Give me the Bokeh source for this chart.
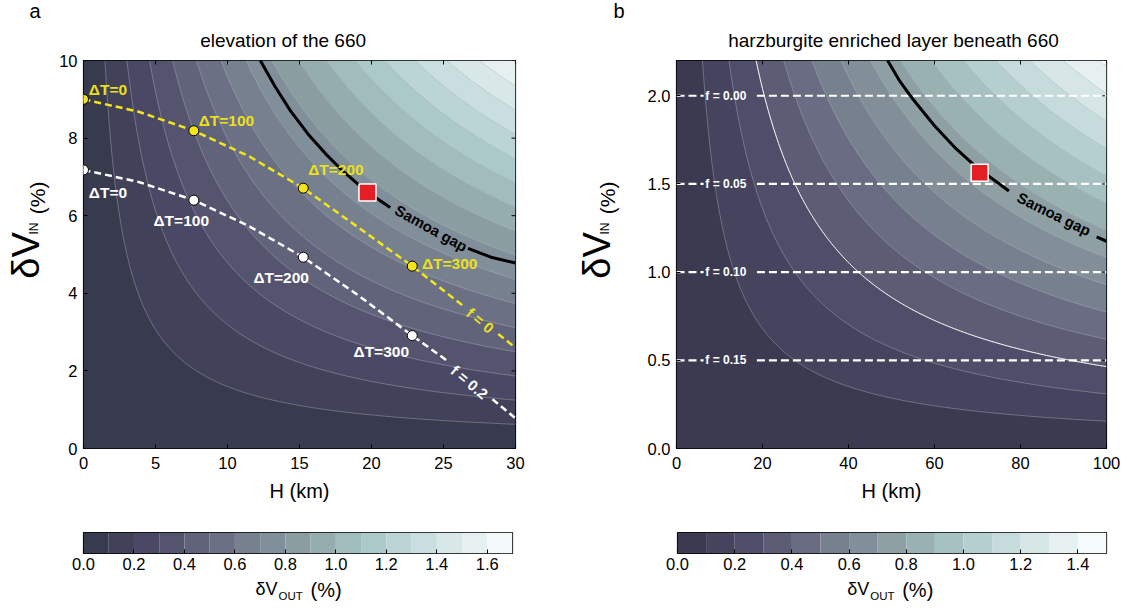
import numpy as np
from bokeh.plotting import figure
from bokeh.models import Label, FixedTicker, Range1d
from bokeh.layouts import column, row
from bokeh.embed import file_html
from bokeh.resources import INLINE

FONT = "Liberation Sans"

# ---------------- data: panel a (elevation of the 660) ----------------
a_title = "elevation of the 660"
a_x_ticks = [0, 5, 10, 15, 20, 25, 30]
a_y_ticks = [0, 2, 4, 6, 8, 10]
a_levels = [0.0, 0.1, 0.2, 0.3, 0.4, 0.5, 0.6, 0.7, 0.8, 0.9, 1.0, 1.1, 1.2, 1.3, 1.4, 1.5, 1.6, 1.7]
a_cbar_ticks = [0.0, 0.2, 0.4, 0.6, 0.8, 1.0, 1.2, 1.4, 1.6]
a_palette = ["#383a4e", "#41415a", "#4a4965", "#55546f", "#61637b", "#6b7085",
             "#76808f", "#808f99", "#8a9ea2", "#96adad", "#a0bcbc", "#abc9c9",
             "#bbd5d5", "#c9dfdf", "#d8e8e8", "#e7f0f0", "#f4f9fa"]
# dV_OUT = dV_IN * gain * (1 - exp(-H / length)) 
a_gain = 0.408
a_length_km = 60.0

# f = 0 (yellow) and f = 0.2 (white) paths, with a gap for their labels
a_f0_H = [0.0, 3.83, 7.66, 11.5, 15.26, 19.0, 22.83, 26.35]
a_f0_V = [9.0, 8.68, 8.19, 7.53, 6.71, 5.72, 4.70, 3.68]
a_f0_tail_H = [28.8, 30.0]
a_f0_tail_V = [2.95, 2.6]
a_f2_H = [0.0, 3.83, 7.66, 11.5, 15.26, 19.0, 22.83, 25.3]
a_f2_V = [7.18, 6.87, 6.40, 5.73, 4.93, 3.97, 2.91, 2.25]
a_f2_tail_H = [28.4, 30.0]
a_f2_tail_V = [1.27, 0.78]
# dT markers
a_dT_text = ["ΔT=0", "ΔT=100", "ΔT=200", "ΔT=300"]
a_dT_H = [0.0, 7.66, 15.26, 22.83]
a_f0_mark_V = [9.0, 8.19, 6.71, 4.70]
a_f2_mark_V = [7.18, 6.40, 4.93, 2.91]
a_f0_lab_H = [0.37, 8.0, 15.6, 23.5]
a_f0_lab_V = [9.26, 8.45, 7.18, 4.78]
a_f2_lab_H = [0.37, 4.86, 11.8, 18.75]
a_f2_lab_V = [6.6, 5.88, 4.42, 2.51]
# Samoa gap curve, observation
a_samoa_H = [12.28, 13.3, 14.4, 15.6, 16.8, 17.9, 19.0, 20.2, 21.3]
a_samoa_V = [10.0, 9.33, 8.69, 8.10, 7.60, 7.19, 6.83, 6.49, 6.21]
a_samoa_tail_H = [26.7, 28.3, 30.0]
a_samoa_tail_V = [5.16, 4.93, 4.78]
a_obs_H = [19.72]
a_obs_V = [6.60]

# ---------------- data: panel b (harzburgite enriched layer) ----------------
b_title = "harzburgite enriched layer beneath 660"
b_x_ticks = [0, 20, 40, 60, 80, 100]
b_y_ticks = [0.0, 0.5, 1.0, 1.5, 2.0]
b_levels = [0.0, 0.1, 0.2, 0.3, 0.4, 0.5, 0.6, 0.7, 0.8, 0.9, 1.0, 1.1, 1.2, 1.3, 1.4, 1.5]
b_cbar_ticks = [0.0, 0.2, 0.4, 0.6, 0.8, 1.0, 1.2, 1.4]
b_palette = ["#3b3a51", "#45435d", "#4f4e6a", "#5c5c74", "#696c82", "#77808f",
             "#828f99", "#8ea0a4", "#9ab1b1", "#a6c1c1", "#b5cfcf", "#c6dbdb",
             "#d6e6e6", "#e6f0f0", "#f5fafa"]
b_gain = 2.28
b_length_km = 300.0
b_f_V = [2.0, 1.5, 1.0, 0.5]
b_f_text = ["f = 0.00", "f = 0.05", "f = 0.10", "f = 0.15"]
b_f_left_H = [0.0, 6.3]
b_f_right_H = [18.7, 100.0]
b_f_lab_H = 6.7
b_samoa_H = [49.1, 52.0, 55.0, 60.0, 65.0, 70.0, 74.0, 77.3]
b_samoa_V = [2.2, 2.08, 1.98, 1.83, 1.70, 1.59, 1.52, 1.46]
b_samoa_tail_H = [97.7, 100.0]
b_samoa_tail_V = [1.20, 1.175]
b_obs_H = [70.5]
b_obs_V = [1.563]

YELLOW = "#f3e51a"
YELLOW_TXT = "#ece01c"
RED = "#e31e24"

TOP_H = 53          # height of the title strip
ROW_H = 510 - TOP_H  # height of the plot row
FRAME_TOP = 60


def strip(x0, y0, w, h):
    """Blank canvas region whose data coordinates are page pixels (y downwards)."""
    s = figure(width=w, height=h, x_range=Range1d(x0, x0 + w), y_range=Range1d(y0 + h, y0),
               output_backend="svg", toolbar_location=None, x_axis_location=None,
               y_axis_location=None, min_border=0, outline_line_color=None)
    s.grid.visible = False
    return s


def txt(fig, x, y, text, size, **kw):
    kw.setdefault("text_baseline", "middle")
    fig.add_layout(Label(x=x, y=y, text=text, text_font=FONT, text_font_size=size,
                         text_color=kw.pop("color", "black"), **kw))


def style_axes(p, xt, yt, xlabels, ylabels):
    bottom, left = p.below[0], p.left[0]
    bottom.ticker = FixedTicker(ticks=xt)
    left.ticker = FixedTicker(ticks=yt)
    bottom.major_label_overrides = xlabels
    left.major_label_overrides = ylabels
    for ax in p.axis:
        ax.axis_line_color = None
        ax.major_tick_in = 4
        ax.major_tick_out = 0
        ax.major_tick_line_color = "black"
        ax.minor_tick_line_color = None
        ax.major_label_text_font = FONT
        ax.major_label_text_font_size = "16.5px"
        ax.major_label_text_color = "black"
    bottom.major_label_standoff = 8
    left.major_label_standoff = 6
    bottom.axis_label = "H (km)"
    bottom.axis_label_text_font = FONT
    bottom.axis_label_text_font_style = "normal"
    bottom.axis_label_text_font_size = "20px"
    bottom.axis_label_text_color = "black"
    bottom.axis_label_standoff = 8
    p.grid.visible = False
    p.outline_line_color = "black"
    p.outline_line_width = 1.2


def mirror_ticks(p, xt, yt, xmax, ymax):
    # inward ticks on the top and right edges (half of each dash is clipped by the frame)
    p.scatter(xt, [ymax] * len(xt), marker="dash", angle=np.pi / 2, size=8,
              line_color="black", line_width=1)
    p.scatter([xmax] * len(yt), yt, marker="dash", size=8, line_color="black", line_width=1)


def field(Hmax, Vmax, gain, length):
    H = np.linspace(0, Hmax, 301)
    V = np.linspace(0, Vmax, 221)
    Z = V[:, None] * (gain * (1.0 - np.exp(-H / length)))[None, :]
    return H, V, Z


def ylabel(s, x_dv, x_in, x_pc):
    txt(s, x_dv, 310, "δV", "38px", angle=np.pi / 2)
    txt(s, x_in, 258, "IN", "12px", angle=np.pi / 2)
    txt(s, x_pc, 234, "(%)", "21px", angle=np.pi / 2)


# ---------------- panel a ----------------
pa = figure(width=519, height=ROW_H, x_range=Range1d(0, 30), y_range=Range1d(0, 10),
            output_backend="svg", toolbar_location=None,
            min_border_left=27, min_border_right=60, min_border_top=FRAME_TOP - TOP_H,
            min_border_bottom=62)
style_axes(pa, a_x_ticks, a_y_ticks, {t: str(t) for t in a_x_ticks}, {t: str(t) for t in a_y_ticks})
pa.background_fill_color = a_palette[0]
H, V, Z = field(30, 10, a_gain, a_length_km)
pa.contour(H, V, Z, levels=[a_levels[0] - 0.01] + a_levels[1:], fill_color=a_palette, line_color=None)
pa.contour(H, V, Z, levels=a_levels[1:-1], fill_color=None, line_color="white",
           line_alpha=0.45, line_width=0.6)
mirror_ticks(pa, a_x_ticks, a_y_ticks, 30, 10)

pa.line(a_samoa_H, a_samoa_V, line_color="black", line_width=3)
pa.line(a_samoa_tail_H, a_samoa_tail_V, line_color="black", line_width=3)
pa.line(a_f2_H, a_f2_V, line_color="white", line_width=2.5, line_dash="7 4")
pa.line(a_f2_tail_H, a_f2_tail_V, line_color="white", line_width=2.5, line_dash="7 4")
pa.line(a_f0_H, a_f0_V, line_color=YELLOW, line_width=2.5, line_dash="7 4")
pa.line(a_f0_tail_H, a_f0_tail_V, line_color=YELLOW, line_width=2.5, line_dash="7 4")
pa.scatter(a_dT_H, a_f2_mark_V, size=10, fill_color="white", line_color="black", line_width=1)
pa.scatter(a_dT_H, a_f0_mark_V, size=10, fill_color=YELLOW, line_color="black", line_width=1)
pa.scatter(a_obs_H, a_obs_V, marker="square", size=17, fill_color=RED, line_color="white", line_width=1.5)

for t, x, y in zip(a_dT_text, a_f0_lab_H, a_f0_lab_V):
    txt(pa, x, y, t, "15.5px", color=YELLOW_TXT, text_font_style="bold")
for t, x, y in zip(a_dT_text, a_f2_lab_H, a_f2_lab_V):
    txt(pa, x, y, t, "15.5px", color="white", text_font_style="bold")
txt(pa, 27.55, 3.3, "f = 0", "15px", color=YELLOW_TXT, angle=-40 * np.pi / 180,
    text_font_style="bold", text_align="center")
txt(pa, 26.8, 1.71, "f = 0.2", "15px", color="white", angle=-40 * np.pi / 180,
    text_font_style="bold", text_align="center")
txt(pa, 24.15, 5.68, "Samoa gap", "15px", angle=-29 * np.pi / 180,
    text_font_style="bold", text_align="center")

# ---------------- panel b ----------------
pb = figure(width=490, height=ROW_H, x_range=Range1d(0, 100), y_range=Range1d(0, 2.2),
            output_backend="svg", toolbar_location=None,
            min_border_left=36, min_border_right=24, min_border_top=FRAME_TOP - TOP_H,
            min_border_bottom=62)
style_axes(pb, b_x_ticks, b_y_ticks, {t: str(t) for t in b_x_ticks}, {t: f"{t:.1f}" for t in b_y_ticks})
pb.background_fill_color = b_palette[0]
H, V, Z = field(100, 2.2, b_gain, b_length_km)
pb.contour(H, V, Z, levels=[b_levels[0] - 0.01] + b_levels[1:], fill_color=b_palette, line_color=None)
pb.contour(H, V, Z, levels=b_levels[1:-1], fill_color=None, line_color="white",
           line_alpha=0.45, line_width=0.6)
pb.contour(H, V, Z, levels=[b_levels[3]], fill_color=None, line_color="white",
           line_alpha=0.95, line_width=1.0)
mirror_ticks(pb, b_x_ticks, b_y_ticks, 100, 2.2)
for yv, t in zip(b_f_V, b_f_text):
    pb.line(b_f_left_H, [yv, yv], line_color="white", line_width=2.2, line_dash="8 4")
    pb.line(b_f_right_H, [yv, yv], line_color="white", line_width=2.2, line_dash="8 4")
    txt(pb, b_f_lab_H, yv, t, "12px", color="white", text_font_style="bold")
pb.line(b_samoa_H, b_samoa_V, line_color="black", line_width=3)
pb.line(b_samoa_tail_H, b_samoa_tail_V, line_color="black", line_width=3)
pb.scatter(b_obs_H, b_obs_V, marker="square", size=17, fill_color=RED, line_color="white", line_width=1.5)
txt(pb, 87.8, 1.33, "Samoa gap", "15px", angle=-26 * np.pi / 180,
    text_font_style="bold", text_align="center")

# ---------------- titles, panel letters, y labels ----------------
top = strip(0, 0, 1130, TOP_H)
txt(top, 29, 10.5, "a", "20px")
txt(top, 282.6, 40, a_title, "19px", text_align="center")
txt(top, 613, 10.5, "b", "20px")
txt(top, 893, 40, b_title, "19px", text_align="center")

yla = strip(0, TOP_H, 56, ROW_H)
ylabel(yla, 25.7, 33.8, 37.0)
ylb = strip(575, TOP_H, 65, ROW_H)
ylabel(ylb, 596.0, 604.0, 607.3)


# ---------------- colour bars ----------------
def colorbar(levels, palette, ticks, width, left, right):
    c = figure(width=width, height=68, x_range=Range1d(levels[0], levels[-1]), y_range=Range1d(0, 1),
               output_backend="svg", toolbar_location=None, y_axis_location=None,
               min_border_left=left, min_border_right=right, min_border_top=22, min_border_bottom=25)
    c.quad(left=levels[:-1], right=levels[1:], bottom=0, top=1, fill_color=palette, line_color=None)
    ax = c.below[0]
    ax.ticker = FixedTicker(ticks=ticks)
    ax.major_label_overrides = {t: f"{t:.1f}" for t in ticks}
    ax.axis_line_color = None
    ax.major_tick_in = 4
    ax.major_tick_out = 0
    ax.minor_tick_line_color = None
    ax.major_label_standoff = 4
    ax.major_label_text_font = FONT
    ax.major_label_text_font_size = "16.5px"
    ax.major_label_text_color = "black"
    c.grid.visible = False
    c.outline_line_color = "black"
    c.outline_line_width = 1.2
    return c


ca = colorbar(a_levels, a_palette, a_cbar_ticks, 600, 83, 88)
cb = colorbar(b_levels, b_palette, b_cbar_ticks, 530, 77, 24)

bot = strip(0, 578, 1130, 33)
for x0 in (255, 846.7):
    txt(bot, x0, 588.3, "δV", "18px")
    txt(bot, x0 + 23, 595.5, "OUT", "11.5px")
    txt(bot, x0 + 55, 589.5, "(%)", "20px")

layout = column(top, row(yla, pa, ylb, pb), row(ca, cb), bot)
open("out.html", "w").write(file_html(layout, INLINE))
